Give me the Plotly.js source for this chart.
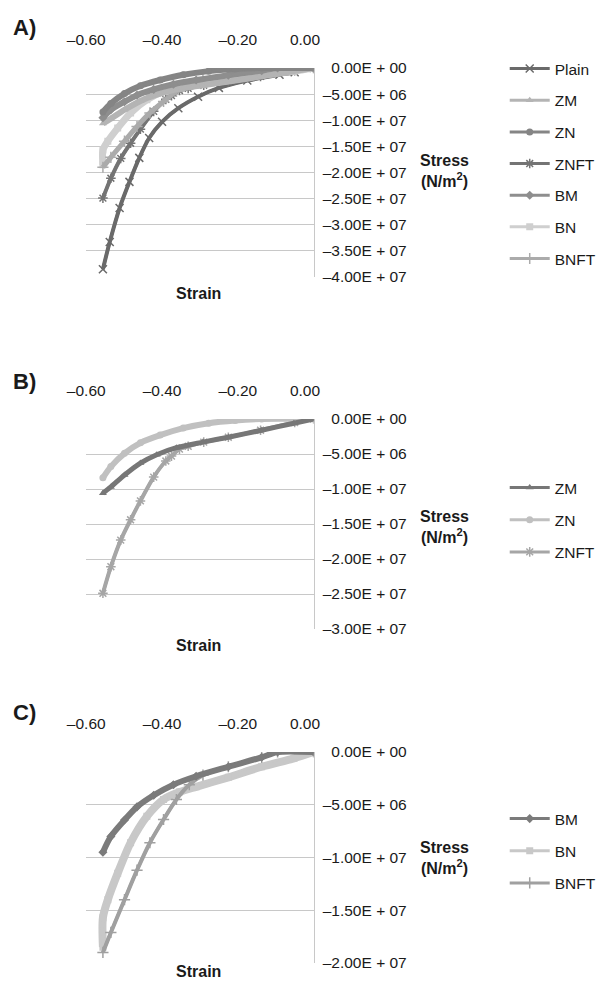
<!DOCTYPE html>
<html><head><meta charset="utf-8">
<script src="https://cdn.plot.ly/plotly-3.0.1.min.js"></script>
<style>html,body{margin:0;padding:0;background:#fff}#chart{width:601px;height:981px}</style>
</head><body><div id="chart"></div>
<script>
// ---- data (strain, stress in N/m^2) ----
const plainStrain = [0, -0.05, -0.09, -0.175, -0.25, -0.305, -0.357, -0.40, -0.434, -0.460, -0.486, -0.512, -0.538, -0.556];
const plainStress = [0, -0.8e6, -1.3e6, -2.4e6, -3.8e6, -5.5e6, -7.7e6, -1.03e7, -1.34e7, -1.72e7, -2.18e7, -2.68e7, -3.33e7, -3.85e7];

const zmStrain = [0, -0.052, -0.137, -0.225, -0.292, -0.362, -0.414, -0.457, -0.499, -0.535, -0.556];
const zmStress = [0, -0.6e6, -1.6e6, -2.6e6, -3.3e6, -4.1e6, -5.1e6, -6.3e6, -8.0e6, -9.7e6, -1.06e7];

const znStrain = [0, -0.137, -0.207, -0.277, -0.344, -0.405, -0.457, -0.499, -0.535, -0.556];
const znStress = [0, 0, -0.2e6, -0.6e6, -1.3e6, -2.3e6, -3.4e6, -4.9e6, -6.8e6, -8.4e6];

const znftStrain = [0, -0.05, -0.14, -0.225, -0.29, -0.331, -0.354, -0.375, -0.39, -0.422, -0.457, -0.483, -0.509, -0.535, -0.556];
const znftStress = [0, -0.5e6, -1.6e6, -2.6e6, -3.3e6, -3.9e6, -4.3e6, -5.3e6, -6.0e6, -8.3e6, -1.17e7, -1.44e7, -1.73e7, -2.11e7, -2.49e7];

const bmStrain = [0, -0.095, -0.137, -0.225, -0.310, -0.370, -0.422, -0.466, -0.499, -0.535, -0.556];
const bmStress = [0, 0, -0.5e6, -1.4e6, -2.3e6, -3.1e6, -4.1e6, -5.2e6, -6.45e6, -8.0e6, -9.5e6];

const bnStrain = [0, -0.052, -0.137, -0.225, -0.31, -0.354, -0.396, -0.440, -0.483, -0.517, -0.543, -0.556, -0.556];
const bnStress = [0, -0.6e6, -1.4e6, -2.4e6, -3.3e6, -3.8e6, -4.5e6, -6.1e6, -8.6e6, -1.15e7, -1.40e7, -1.57e7, -1.85e7];

const bnftStrain = [0, -0.095, -0.137, -0.225, -0.292, -0.328, -0.362, -0.396, -0.432, -0.466, -0.499, -0.535, -0.556];
const bnftStress = [0, 0, -0.5e6, -1.4e6, -2.2e6, -3.1e6, -4.5e6, -6.4e6, -8.6e6, -1.12e7, -1.40e7, -1.71e7, -1.90e7];

// ---- tick labels ----
const strainTickVals = [-0.6, -0.4, -0.2, 0];
const strainTickText = ['–0.60', '–0.40', '–0.20', '0.00\u00a0\u00a0\u00a0\u00a0'];

const stressTickValsA = [0, -5e6, -1e7, -1.5e7, -2e7, -2.5e7, -3e7, -3.5e7, -4e7];
const stressTickTextA = ['\u00a0\u00a00.00E + 00', '–5.00E + 06', '–1.00E + 07', '–1.50E + 07', '–2.00E + 07', '–2.50E + 07', '–3.00E + 07', '–3.50E + 07', '–4.00E + 07'];
const stressTickValsB = [0, -5e6, -1e7, -1.5e7, -2e7, -2.5e7, -3e7];
const stressTickTextB = ['\u00a0\u00a00.00E + 00', '–5.00E + 06', '–1.00E + 07', '–1.50E + 07', '–2.00E + 07', '–2.50E + 07', '–3.00E + 07'];
const stressTickValsC = [0, -5e6, -1e7, -1.5e7, -2e7];
const stressTickTextC = ['\u00a0\u00a00.00E + 00', '–5.00E + 06', '–1.00E + 07', '–1.50E + 07', '–2.00E + 07'];

// ---- build ----
const W = 601, H = 981;
const FONT = 'Liberation Sans, Arial, Helvetica, sans-serif';
const TXT = '#1a1a1a';
const px = v => v / W, py = v => 1 - v / H;

const series = {
  Plain: [plainStrain, plainStress, 'x-thin-open'],
  ZM: [zmStrain, zmStress, 'triangle-up'],
  ZN: [znStrain, znStress, 'circle'],
  ZNFT: [znftStrain, znftStress, 'asterisk-open'],
  BM: [bmStrain, bmStress, 'diamond'],
  BN: [bnStrain, bnStress, 'square'],
  BNFT: [bnftStrain, bnftStress, 'cross-thin-open']
};

// each series: a thick band (no legend) + a thin line with markers (legend entry)
function mk(name, color, width, ax, leg) {
  const s = series[name];
  const open = s[2].indexOf('open') >= 0;
  const common = {type: 'scatter', name: name, x: s[0], y: s[1], xaxis: 'x' + ax, yaxis: 'y' + ax,
    legend: leg, legendgroup: name + ax, hoverinfo: 'skip'};
  const band = Object.assign({}, common, {mode: 'lines', showlegend: false,
    line: {color: color, width: width, shape: 'spline', smoothing: 0.8}});
  const thin = Object.assign({}, common, {mode: 'lines+markers', showlegend: true,
    line: {color: color, width: 3, shape: 'spline', smoothing: 0.8},
    marker: {symbol: s[2], size: open ? 8 : 7, color: color, line: {color: color, width: open ? 1.5 : 0}}});
  return [band, thin];
}

const data = [].concat(
  mk('Plain', '#6a6a6a', 4, '', 'legend'),
  mk('ZNFT', '#747474', 4, '', 'legend'),
  mk('BN', '#cfcfcf', 7, '', 'legend'),
  mk('BNFT', '#ababab', 5, '', 'legend'),
  mk('ZM', '#b4b4b4', 6, '', 'legend'),
  mk('BM', '#8e8e8e', 6, '', 'legend'),
  mk('ZN', '#858585', 6, '', 'legend'),

  mk('ZNFT', '#a6a6a6', 4, '2', 'legend2'),
  mk('ZN', '#c0c0c0', 6, '2', 'legend2'),
  mk('ZM', '#777777', 5, '2', 'legend2'),

  mk('BN', '#c8c8c8', 8, '3', 'legend3'),
  mk('BNFT', '#a0a0a0', 4, '3', 'legend3'),
  mk('BM', '#7b7b7b', 6, '3', 'legend3')
);
// legend order per panel
const orderA = ['Plain', 'ZM', 'ZN', 'ZNFT', 'BM', 'BN', 'BNFT'];
const orderB = ['ZM', 'ZN', 'ZNFT'];
const orderC = ['BM', 'BN', 'BNFT'];
data.forEach(t => {
  const o = t.legend === 'legend' ? orderA : (t.legend === 'legend2' ? orderB : orderC);
  t.legendrank = o.indexOf(t.name) + 1;
});

function xax(anchor) {
  return {
    domain: [px(88), px(320)], range: [-0.6, 0], side: 'top', anchor: anchor,
    tickmode: 'array', tickvals: strainTickVals, ticktext: strainTickText,
    showgrid: false, zeroline: false, showline: false, ticks: '',
    tickfont: {family: FONT, size: 15.5, color: TXT}, ticklabelstandoff: 19, fixedrange: true
  };
}
function yax(top, bot, anchor, range, vals, text) {
  return {
    domain: [py(bot), py(top)], range: range, side: 'right', anchor: anchor,
    tickmode: 'array', tickvals: vals, ticktext: text,
    showgrid: true, gridcolor: '#c8c8c8', gridwidth: 1, zeroline: false,
    showline: true, linecolor: '#c8c8c8', linewidth: 1, ticks: '',
    tickfont: {family: FONT, size: 15.5, color: TXT}, ticklabelstandoff: 5, fixedrange: true
  };
}
function leg(topPx, gap) {
  return {
    x: px(515), xanchor: 'left', y: py(topPx), yanchor: 'top',
    font: {family: FONT, size: 15.5, color: TXT}, traceorder: 'grouped', tracegroupgap: gap,
    bgcolor: 'rgba(0,0,0,0)', borderwidth: 0, itemwidth: 40
  };
}
function ann(text, x, y, size, bold) {
  return {text: bold ? '<b>' + text + '</b>' : text, x: px(x), y: py(y), xref: 'paper', yref: 'paper',
    showarrow: false, xanchor: 'center', yanchor: 'middle', font: {family: FONT, size: size, color: TXT}};
}

const stressTitle = '<b>Stress</b><br><b>(N/m<sup>2</sup>)</b>';
const layout = {
  width: W, height: H, margin: {l: 0, r: 0, t: 0, b: 0},
  paper_bgcolor: '#fff', plot_bgcolor: '#fff', showlegend: true,
  xaxis: xax('y'),
  yaxis: yax(68, 277, 'x', [-4e7, 0], stressTickValsA, stressTickTextA),
  xaxis2: xax('y2'),
  yaxis2: yax(419, 629, 'x2', [-3e7, 0], stressTickValsB, stressTickTextB),
  xaxis3: xax('y3'),
  yaxis3: yax(752, 963, 'x3', [-2e7, 0], stressTickValsC, stressTickTextC),
  legend: leg(52, 8.5), legend2: leg(471, 9), legend3: leg(802, 9),
  annotations: [
    ann('A)', 25, 28, 22, true), ann('B)', 25, 381, 22, true), ann('C)', 25, 712, 22, true),
    ann('Strain', 203, 293, 16, true), ann('Strain', 203, 645, 16, true), ann('Strain', 203, 971, 16, true),
    ann(stressTitle, 454, 171, 16, false),
    ann(stressTitle, 454, 527, 16, false),
    ann(stressTitle, 454, 858, 16, false)
  ]
};

Plotly.newPlot('chart', data, layout, {staticPlot: true, displayModeBar: false});
</script></body></html>
